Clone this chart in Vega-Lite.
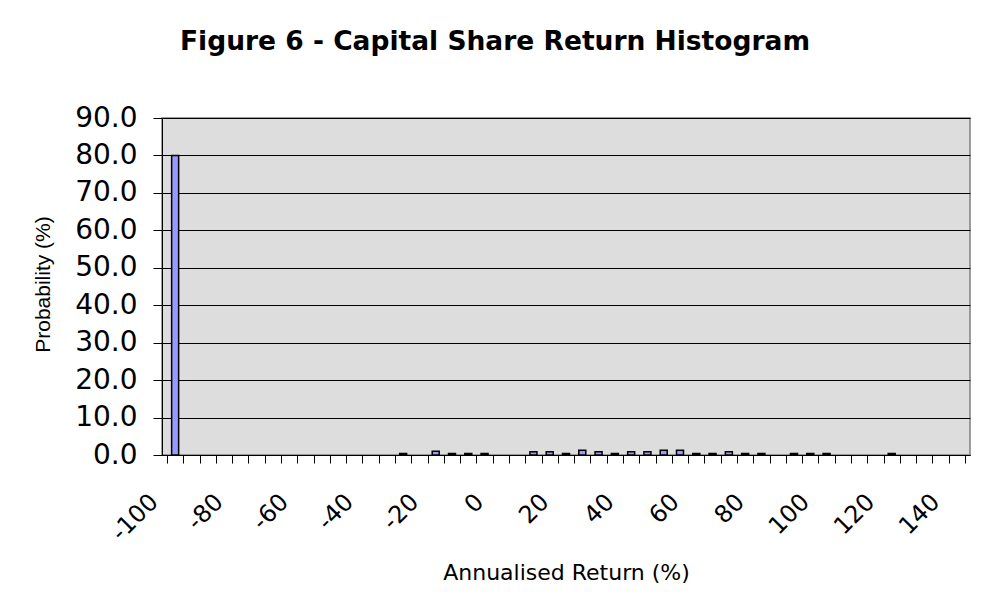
{
  "$schema": "https://vega.github.io/schema/vega-lite/v6.json",
  "width": 808,
  "height": 337,
  "autosize": {"type": "none"},
  "padding": {"left": 162, "top": 118, "right": 21, "bottom": 161},
  "background": "white",
  "title": {
    "text": "Figure 6 - Capital Share Return Histogram",
    "font": "DejaVu Sans",
    "fontSize": 26.5,
    "fontWeight": "bold",
    "color": "black",
    "anchor": "middle",
    "dx": -71,
    "dy": 40,
    "offset": 68,
    "baseline": "alphabetic"
  },
  "data": {
    "values": [
      {"ret": -100, "prob": 80.0},
      {"ret": -30, "prob": 0.4},
      {"ret": -20, "prob": 1.0},
      {"ret": -15, "prob": 0.4},
      {"ret": -10, "prob": 0.4},
      {"ret": -5, "prob": 0.4},
      {"ret": 10, "prob": 0.9},
      {"ret": 15, "prob": 0.9},
      {"ret": 20, "prob": 0.4},
      {"ret": 25, "prob": 1.3},
      {"ret": 30, "prob": 0.9},
      {"ret": 35, "prob": 0.4},
      {"ret": 40, "prob": 0.9},
      {"ret": 45, "prob": 0.9},
      {"ret": 50, "prob": 1.3},
      {"ret": 55, "prob": 1.3},
      {"ret": 60, "prob": 0.4},
      {"ret": 65, "prob": 0.4},
      {"ret": 70, "prob": 0.9},
      {"ret": 75, "prob": 0.4},
      {"ret": 80, "prob": 0.4},
      {"ret": 90, "prob": 0.4},
      {"ret": 95, "prob": 0.4},
      {"ret": 100, "prob": 0.4},
      {"ret": 120, "prob": 0.4}
    ]
  },
  "mark": {"type": "bar", "orient": "vertical", "width": 7, "fill": "#9999FF", "stroke": "black", "strokeWidth": 1.5},
  "encoding": {
    "x": {
      "field": "ret",
      "type": "quantitative",
      "scale": {"domain": [-102.5, 142.5], "nice": false, "zero": false},
      "axis": {
        "values": [-102.5, -97.5, -92.5, -87.5, -82.5, -77.5, -72.5, -67.5, -62.5, -57.5, -52.5, -47.5, -42.5, -37.5, -32.5, -27.5, -22.5, -17.5, -12.5, -7.5, -2.5, 2.5, 7.5, 12.5, 17.5, 22.5, 27.5, 32.5, 37.5, 42.5, 47.5, 52.5, 57.5, 62.5, 67.5, 72.5, 77.5, 82.5, 87.5, 92.5, 97.5, 102.5, 107.5, 112.5, 117.5, 122.5, 127.5, 132.5, 137.5, 142.5],
        "labelExpr": "(datum.value + 2.5) % 20 == 0 ? ('' + (datum.value + 2.5)) : ''",
        "title": "Annualised Return (%)",
        "grid": false,
        "tickSize": 8,
        "tickColor": "black",
        "domainColor": "black",
        "labelAngle": -45,
        "labelAlign": "right",
        "labelBaseline": "middle",
        "labelOffset": -13,
        "labelPadding": 35,
        "labelFont": "DejaVu Sans",
        "labelFontSize": 24,
        "labelColor": "black",
        "labelOverlap": false,
        "labelFlush": false,
        "labelBound": false,
        "titleFont": "DejaVu Sans",
        "titleFontSize": 22,
        "titleFontWeight": "normal",
        "titleColor": "black",
        "titleX": 404,
        "titleY": 117,
        "titleBaseline": "middle"
      }
    },
    "y": {
      "field": "prob",
      "type": "quantitative",
      "scale": {"domain": [0, 90], "nice": false},
      "axis": {
        "values": [0, 10, 20, 30, 40, 50, 60, 70, 80, 90],
        "format": ".1f",
        "title": "Probability (%)",
        "grid": true,
        "gridColor": "black",
        "gridWidth": 1,
        "gridOpacity": 1,
        "tickSize": 9,
        "tickColor": "black",
        "domainColor": "black",
        "labelFont": "DejaVu Sans",
        "labelFontSize": 28,
        "labelColor": "black",
        "labelPadding": 16,
        "titleFont": "Liberation Sans",
        "titleFontSize": 21,
        "titleFontWeight": "normal",
        "titleColor": "black",
        "titleX": -119,
        "titleY": 166,
        "titleBaseline": "middle"
      }
    }
  },
  "config": {"view": {"fill": "#DDDDDD", "stroke": "#808080", "strokeWidth": 1.5}}
}
